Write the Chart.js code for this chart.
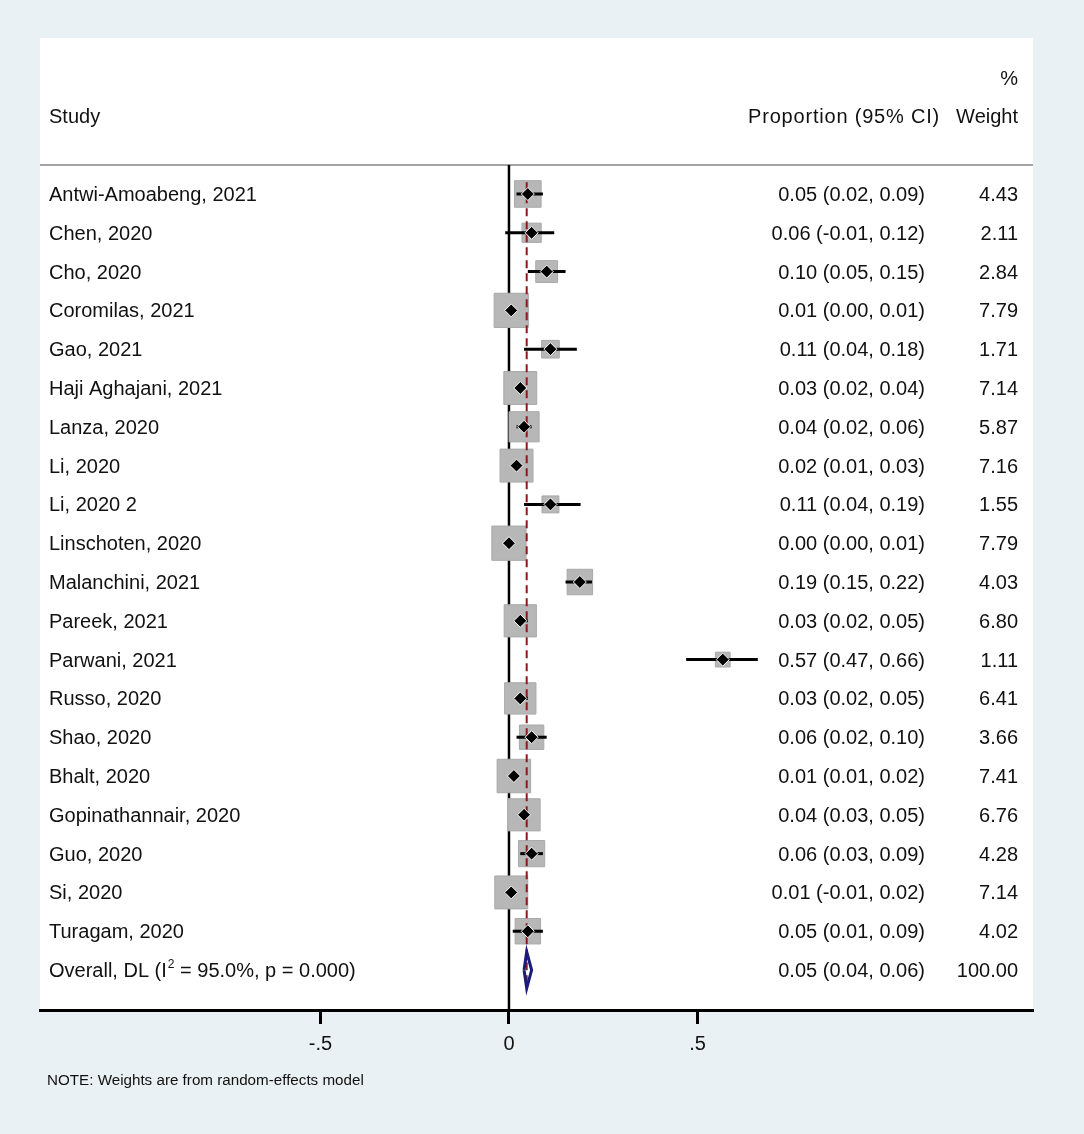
<!DOCTYPE html>
<html>
<head>
<meta charset="utf-8">
<script src="https://cdn.jsdelivr.net/npm/chart.js@4"></script>
<style>
html,body{margin:0;padding:0;background:#e9f1f4;overflow:hidden;}
canvas{display:block;}
</style>
</head>
<body>
<canvas id="c" width="1084" height="1134"></canvas>
<script>
// ---- data ----
const studies = ["Antwi-Amoabeng, 2021","Chen, 2020","Cho, 2020","Coromilas, 2021","Gao, 2021","Haji Aghajani, 2021","Lanza, 2020","Li, 2020","Li, 2020 2","Linschoten, 2020","Malanchini, 2021","Pareek, 2021","Parwani, 2021","Russo, 2020","Shao, 2020","Bhalt, 2020","Gopinathannair, 2020","Guo, 2020","Si, 2020","Turagam, 2020"];
const estimates = [0.05,0.06,0.10,0.006,0.11,0.03,0.04,0.02,0.11,0.00,0.188,0.03,0.567,0.03,0.06,0.013,0.04,0.06,0.006,0.05];
const lower = [0.02,-0.01,0.05,0.00,0.04,0.02,0.02,0.01,0.04,0.00,0.15,0.02,0.47,0.02,0.02,0.01,0.03,0.03,-0.01,0.01];
const upper = [0.09,0.12,0.15,0.01,0.18,0.04,0.06,0.03,0.19,0.01,0.22,0.05,0.66,0.05,0.10,0.02,0.05,0.09,0.02,0.09];
const weights = [4.43,2.11,2.84,7.79,1.71,7.14,5.87,7.16,1.55,7.79,4.03,6.80,1.11,6.41,3.66,7.41,6.76,4.28,7.14,4.02];
const overallLabel = "Overall, DL (I";
const overallStats = " = 95.0%, p = 0.000)";
const overallEst = 0.047, overallLo = 0.04, overallHi = 0.06, overallWeight = 100;
const overallText = "0.05 (0.04, 0.06)";
const tickValues = [-0.5, 0, 0.5];
const tickLabels = ["-.5", "0", ".5"];
const headerStudy = "Study", headerProp = "Proportion (95% CI)", headerPct = "%", headerWeight = "Weight";
const note = "NOTE: Weights are from random-effects model";

const n = studies.length; // overall row index
const FONT = '"Liberation Sans", Arial, sans-serif';

function fmt(v){ const s = v.toFixed(2); return s === "-0.00" ? "0.00" : s; }
const ciText = studies.map((s,i)=> fmt(estimates[i]) + " (" + fmt(lower[i]) + ", " + fmt(upper[i]) + ")");

// ---- datasets ----
const datasets = [];
// weight boxes
datasets.push({
  data: studies.map((s,i)=>({x:estimates[i], y:i})),
  pointStyle:'rect',
  pointRadius: weights.map(w => (3 + 11.2*Math.sqrt(w))/Math.SQRT2),
  backgroundColor:'#b7b7b7', borderColor:'#a9a9a9', borderWidth:1,
  order:5
});
// zero line
datasets.push({
  data:[{x:0,y:-0.75},{x:0,y:21.1}],
  showLine:true, pointRadius:0, borderColor:'#000', borderWidth:2.5, order:6
});
// overall dashed line
datasets.push({
  data:[{x:overallEst,y:-0.3},{x:overallEst,y:n+0.47}],
  showLine:true, pointRadius:0, borderColor:'#8b1a1a', borderWidth:2, borderDash:[8,5], order:4
});
// CI lines
studies.forEach((s,i)=>{
  datasets.push({
    data:[{x:lower[i],y:i},{x:upper[i],y:i}],
    showLine:true, pointRadius:0, borderColor:'#000', borderWidth:3, order:3
  });
});
// point markers
datasets.push({
  data: studies.map((s,i)=>({x:estimates[i], y:i})),
  pointStyle:'rectRot', pointRadius:6.5,
  backgroundColor:'#000', borderColor:'#fff', borderWidth:1, order:1
});
// overall diamond
datasets.push({
  data:[{x:overallLo,y:n},{x:overallEst,y:n-0.47},{x:overallHi,y:n},{x:overallEst,y:n+0.47},{x:overallLo,y:n}],
  showLine:true, pointRadius:0, borderColor:'#1c1c78', borderWidth:3, order:2
});

const decor = {
  id:'decor',
  beforeDraw(chart){
    const {ctx, chartArea:a} = chart;
    ctx.save();
    ctx.fillStyle = '#e9f1f4';
    ctx.fillRect(0,0,chart.width,chart.height);
    ctx.fillStyle = '#ffffff';
    ctx.fillRect(a.left, a.top, a.right-a.left, a.bottom-a.top);
    ctx.restore();
  },
  beforeDatasetsDraw(chart){
    const {ctx, chartArea:a, scales:{y}} = chart;
    ctx.save();
    ctx.strokeStyle = '#a3a3a3'; ctx.lineWidth = 2;
    const yy = y.getPixelForValue(-0.75);
    ctx.beginPath(); ctx.moveTo(a.left, yy); ctx.lineTo(a.right, yy); ctx.stroke();
    ctx.restore();
  },
  afterDraw(chart){
    const {ctx, chartArea:a, scales:{y}} = chart;
    const ty = v => y.getPixelForValue(v) + 1.5;
    ctx.save();
    ctx.fillStyle = '#111';
    ctx.font = '20px ' + FONT;
    ctx.textBaseline = 'middle';
    const xName = a.left + 9, xCI = 925, xW = 1018;
    // header
    ctx.textAlign = 'left';
    ctx.fillText(headerStudy, xName, ty(-2));
    ctx.textAlign = 'right';
    ctx.fillText(headerWeight, xW, ty(-2));
    ctx.fillText(headerPct, xW, ty(-3));
    ctx.letterSpacing = '0.8px';
    ctx.fillText(headerProp, 940, ty(-2));
    ctx.letterSpacing = '0px';
    // rows
    studies.forEach((s,i)=>{
      const yy = ty(i);
      ctx.textAlign = 'left';
      ctx.fillText(s, xName, yy);
      ctx.textAlign = 'right';
      ctx.fillText(ciText[i], xCI, yy);
      ctx.fillText(weights[i].toFixed(2), xW, yy);
    });
    // overall
    const yo = ty(n);
    ctx.textAlign = 'left';
    ctx.fillText(overallLabel, xName, yo);
    let xx = xName + ctx.measureText(overallLabel).width + 1;
    ctx.font = '12px ' + FONT;
    ctx.fillText("2", xx, yo - 7);
    xx += ctx.measureText("2").width;
    ctx.font = '20px ' + FONT;
    ctx.fillText(overallStats, xx, yo);
    ctx.textAlign = 'right';
    ctx.fillText(overallText, xCI, yo);
    ctx.fillText(overallWeight.toFixed(2), xW, yo);
    // note
    ctx.textAlign = 'left';
    ctx.font = '15.2px ' + FONT;
    ctx.fillText(note, 47, 1081);
    ctx.restore();
  }
};

new Chart(document.getElementById('c'), {
  type:'scatter',
  data:{datasets},
  options:{
    responsive:false, animation:false, devicePixelRatio:1,
    events:[],
    layout:{padding:{left:40, right:51, top:38, bottom:0}},
    plugins:{legend:{display:false}, tooltip:{enabled:false}},
    scales:{
      x:{
        type:'linear', min:-1.244, max:1.390,
        afterBuildTicks(s){ s.ticks = tickValues.map(v=>({value:v})); },
        afterFit(s){ s.height = 124; },
        ticks:{
          callback:(v,i)=>tickLabels[i],
          font:{family:FONT, size:20}, color:'#111', padding:8, maxRotation:0, autoSkip:false
        },
        grid:{display:true, drawOnChartArea:false, drawTicks:true, tickLength:14, tickWidth:3, tickColor:'#000'},
        border:{display:true, color:'#000', width:3}
      },
      y:{type:'linear', reverse:true, min:-4.02, max:21.03, display:false}
    }
  },
  plugins:[decor]
});
</script>
</body>
</html>
